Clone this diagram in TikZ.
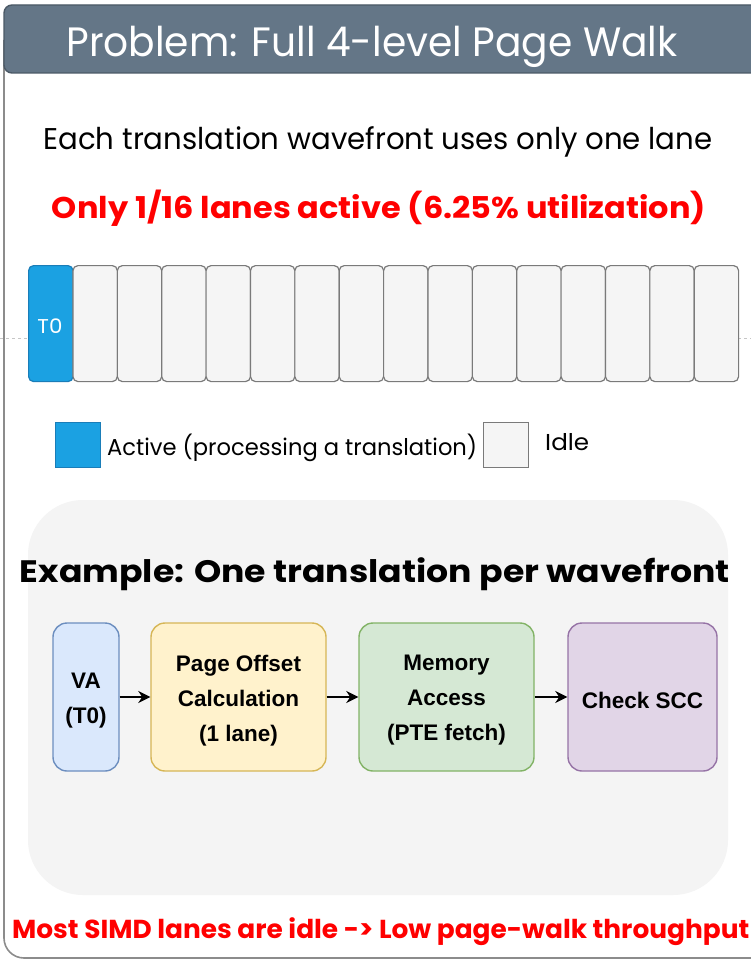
\documentclass[tikz,border=0pt]{standalone}
\usepackage{fontspec}
\usepackage{graphicx}
\setmainfont{Poppins}
\newfontfamily\boxfont{Liberation Sans}
\usetikzlibrary{arrows.meta}

\definecolor{titlebar}{HTML}{647687}
\definecolor{titleedge}{HTML}{4B5966}
\definecolor{framegray}{HTML}{8C8C8C}
\definecolor{panelgray}{HTML}{F4F4F4}
\definecolor{laneblue}{HTML}{1BA1E2}
\definecolor{laneblueedge}{HTML}{1A7DB8}
\definecolor{idlefill}{HTML}{F5F5F5}
\definecolor{idleedge}{HTML}{7A7A7A}
\definecolor{vafill}{HTML}{DAE8FC}\definecolor{vaedge}{HTML}{6C8EBF}
\definecolor{pofill}{HTML}{FFF2CC}\definecolor{poedge}{HTML}{D6B656}
\definecolor{mafill}{HTML}{D5E8D4}\definecolor{maedge}{HTML}{82B366}
\definecolor{scfill}{HTML}{E1D5E7}\definecolor{scedge}{HTML}{9673A6}
\definecolor{alertred}{HTML}{FF0000}

% stretch text horizontally to a given width, keeping its height
\newcommand{\wfit}[2]{\resizebox{#1pt}{\height}{#2}}
\newcommand{\fsz}[1]{\fontsize{#1}{#1}\selectfont}

\tikzset{
  lanebox/.style={rectangle, rounded corners=5pt, line width=1.2pt,
    minimum width=44.375pt, minimum height=116pt, inner sep=0pt, anchor=north west},
  activelane/.style={lanebox, fill=laneblue, draw=laneblueedge},
  idlelane/.style={lanebox, fill=idlefill, draw=idleedge},
  legendbox/.style={rectangle, minimum size=45pt, inner sep=0pt, line width=1.2pt, anchor=north west},
  flowbox/.style={rectangle, rounded corners=14pt, line width=1.4pt, minimum height=148pt,
    inner sep=0pt},
  flowtext/.style={inner sep=0pt, align=center, yshift=-3.5pt,
    font=\boxfont\bfseries\fontsize{22.5}{35}\selectfont},
  flowarrow/.style={-{Stealth[length=12pt,width=12pt]}, line width=2.2pt, black},
  plain/.style={inner sep=0pt, anchor=base}
}

\begin{document}
\begin{tikzpicture}[x=1pt,y=-1pt]
\useasboundingbox (0,0) rectangle (751,960);
\fill[white] (0,0) rectangle (751,960);

% slide frame and title bar
\draw[framegray, line width=1.6pt, rounded corners=20pt] (4,40) -- (4,958) -- (780,958);
\draw[fill=titlebar, draw=titleedge, line width=1.4pt, rounded corners=8pt]
  (4,5) rectangle (790,73);
\node[plain, text=white, font=\fsz{41}] (title) at (372,57)
  {\wfit{611}{Problem: Full 4-level Page Walk}};

% headline texts
\node[plain, font=\fsz{30}] (lead) at (378,150)
  {\wfit{669}{Each translation wavefront uses only one lane}};
\node[plain, text=alertred, font=\bfseries\fsz{30}] (util) at (379,218)
  {\wfit{654}{Only 1/16 lanes active (6.25\% utilization)}};

% faint guide line behind the lanes
\coordinate (guideL) at (0,338);
\coordinate (guideR) at (751,338);
\draw[gray!45, line width=0.8pt, dash pattern=on 3pt off 3pt] (guideL) -- (guideR);

% the 16 SIMD lanes
\node[activelane] (lane0) at (28,265) {};
\foreach \i in {1,...,15}{
  \node[idlelane] (lane\i) at ({28+44.375*\i},265) {};
}
\node[plain, text=white, font=\fsz{20}] (t0) at (50,333) {\wfit{25}{T0}};

% legend
\node[legendbox, fill=laneblue, draw=laneblueedge] (legActive) at (55,422) {};
\node[plain, anchor=base west, font=\fsz{23}] (legActiveTxt) at (107,455)
  {\wfit{370}{Active (processing a translation)}};
\node[legendbox, fill=idlefill, draw=idleedge] (legIdle) at (483,422) {};
\node[plain, anchor=base west, font=\fsz{23}] (legIdleTxt) at (545,450) {\wfit{44}{Idle}};

% example panel
\fill[panelgray, rounded corners=55pt] (28,500) rectangle (728,895);
\node[plain, font=\bfseries\fsz{31}] (extitle) at (375,582)
  {\wfit{710}{Example: One translation per wavefront}};

% pipeline stages
\node[flowbox, fill=vafill, draw=vaedge, minimum width=66pt] (va) at (86,697) {};
\node[flowbox, fill=pofill, draw=poedge, minimum width=175pt] (po) at (238.5,697) {};
\node[flowbox, fill=mafill, draw=maedge, minimum width=175pt] (ma) at (446.5,697) {};
\node[flowbox, fill=scfill, draw=scedge, minimum width=149pt] (sc) at (642.5,697) {};
\node[flowtext] (vaTxt) at (va.center) {VA\\(T0)};
\node[flowtext] (poTxt) at (po.center) {Page Offset\\Calculation\\(1 lane)};
\node[flowtext] (maTxt) at (ma.center) {Memory\\Access\\(PTE fetch)};
\node[flowtext] (scTxt) at (sc.center) {Check SCC};

\draw[flowarrow] (va) -- (po);
\draw[flowarrow] (po) -- (ma);
\draw[flowarrow] (ma) -- (sc);

% conclusion
\node[plain, anchor=base west, text=alertred, font=\bfseries\fsz{26}] (concl) at (12,938)
  {\wfit{737}{Most SIMD lanes are idle -> Low page-walk throughput}};
\end{tikzpicture}
\end{document}
